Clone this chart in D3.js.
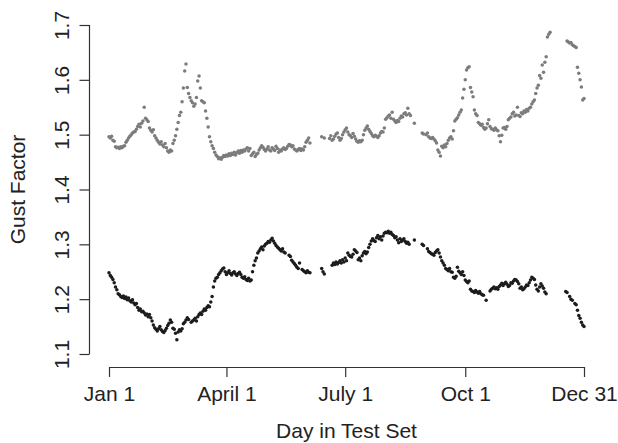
<!DOCTYPE html>
<html>
<head>
<meta charset="utf-8">
<script src="https://cdn.jsdelivr.net/npm/d3@7"></script>
<style>
  html, body { margin: 0; padding: 0; background: #fff; }
  svg { display: block; }
  text { font-family: "Liberation Sans", Arial, Helvetica, sans-serif; fill: #222; }
</style>
</head>
<body>
<svg id="chart" width="618" height="443"></svg>
<script>
// Daily gust factor over the test year; null = no observation that day.
const xTickDays = [1, 91, 182, 274, 365];
const xTickLabels = ["Jan 1", "April 1", "July 1", "Oct 1", "Dec 31"];
const yTicks = [1.1, 1.2, 1.3, 1.4, 1.5, 1.6, 1.7];
const yTickLabels = ["1.1", "1.2", "1.3", "1.4", "1.5", "1.6", "1.7"];

// Upper (grey) series, day 1..365
const upperSeries = [
  1.496,1.494,1.497,1.490,1.488,1.478,1.476,1.477,1.475,1.478,
  1.476,1.479,1.480,1.486,1.490,1.494,1.497,1.500,1.503,1.505,
  1.506,1.510,1.515,1.519,1.514,1.521,1.525,1.550,1.530,1.527,
  1.524,1.512,1.508,1.505,1.509,1.498,1.494,1.490,1.486,1.483,
  1.487,1.481,1.478,1.484,1.476,1.470,1.468,1.472,1.470,1.484,
  1.490,1.498,1.510,1.522,1.535,1.541,1.560,1.585,1.616,1.629,
  1.586,1.575,1.568,1.562,1.558,1.552,1.556,1.568,1.598,1.607,
  1.585,1.562,1.560,1.558,1.543,1.530,1.514,1.496,1.487,1.480,
  1.475,1.468,1.463,1.460,1.456,1.458,1.455,1.459,1.462,1.460,
  1.463,1.461,1.465,1.462,1.466,1.464,1.468,1.463,1.467,1.470,
  1.466,1.471,1.468,1.472,1.470,1.474,1.476,1.470,1.475,1.462,
  1.465,1.468,1.460,1.464,1.466,1.472,1.476,1.480,1.477,1.473,
  1.470,1.474,1.478,1.472,1.470,1.476,1.474,1.471,1.479,1.475,
  1.468,1.472,1.470,1.474,1.476,1.473,1.475,1.479,1.482,1.481,
  1.478,1.480,1.474,1.472,1.470,1.473,1.475,1.471,1.474,1.472,
  1.478,1.486,1.490,1.494,1.485,null,null,null,null,null,
  null,null,null,1.496,null,1.494,null,null,null,1.493,
  1.498,1.490,1.492,1.497,1.501,1.503,1.495,1.490,1.493,1.500,
  1.505,1.509,1.512,1.505,1.500,1.498,1.495,1.502,1.497,1.492,
  1.488,1.486,1.489,1.487,1.490,1.500,1.508,1.512,1.516,1.510,
  1.506,1.502,1.498,1.496,1.499,1.497,1.495,1.498,1.503,1.506,
  1.505,1.512,1.528,1.531,1.534,1.536,1.530,1.541,1.528,1.525,
  1.522,1.526,1.524,1.530,1.534,1.532,1.538,1.540,1.536,1.548,
  1.538,1.535,null,null,1.521,null,null,null,null,null,
  1.503,1.501,null,1.500,1.503,1.496,1.494,1.493,1.495,1.492,
  1.489,1.485,1.472,1.468,1.461,1.479,1.476,1.481,1.478,1.484,
  1.490,1.494,1.496,1.492,1.507,1.525,1.528,1.531,1.536,1.541,
  1.545,1.567,1.583,1.600,1.618,1.622,1.624,1.586,1.578,1.569,
  1.545,1.538,1.535,1.522,1.520,1.517,1.519,1.513,1.510,1.512,
  1.520,1.527,1.515,1.511,1.510,1.508,1.512,1.509,1.507,1.498,
  1.487,1.499,1.512,1.513,1.510,1.515,1.527,1.530,1.532,1.538,
  1.541,1.534,1.536,1.550,1.535,1.533,1.540,1.538,1.543,1.541,
  1.546,1.543,1.548,1.550,1.556,1.560,1.563,1.575,1.585,1.590,
  1.608,1.603,1.627,1.614,1.632,1.642,1.678,1.683,1.687,null,
  null,null,null,null,null,null,null,null,null,null,
  null,1.671,1.669,1.667,1.668,1.664,1.662,1.661,1.659,1.623,
  1.612,1.600,1.587,1.563,1.566
];

// Lower (black) series, day 1..365
const lowerSeries = [
  1.248,1.243,1.240,1.236,1.230,1.222,1.217,1.210,1.208,1.205,
  1.203,1.206,1.201,1.204,1.199,1.202,1.197,1.195,1.199,1.193,
  1.190,1.192,1.185,1.180,1.182,1.177,1.178,1.175,1.171,1.173,
  1.168,1.172,1.166,1.160,1.153,1.148,1.145,1.142,1.146,1.150,
  1.144,1.141,1.139,1.143,1.147,1.152,1.156,1.162,1.158,1.147,
  1.145,1.138,1.126,1.140,1.144,1.142,1.146,1.155,1.158,1.162,
  1.166,1.163,null,1.158,1.160,1.162,1.165,1.160,1.168,1.172,
  1.175,1.172,1.178,1.182,1.180,1.185,1.188,1.186,1.195,1.205,
  1.222,1.233,1.238,1.240,1.245,1.248,1.252,1.255,1.257,1.250,
  1.245,1.248,1.252,1.247,1.244,1.248,1.250,1.246,1.243,1.247,
  1.249,1.245,1.240,1.238,1.241,1.236,1.234,1.238,1.233,1.235,
  1.250,1.262,1.270,1.275,1.284,1.288,1.292,1.295,1.290,1.297,
  1.300,1.302,1.305,1.304,1.308,1.311,1.306,1.302,1.298,1.295,
  1.293,1.290,1.288,1.292,1.286,1.284,null,null,1.280,1.278,
  1.271,1.268,1.265,1.262,1.258,1.256,1.266,null,1.254,1.252,
  1.250,1.248,1.252,1.249,1.248,null,null,null,null,null,
  null,null,null,1.256,1.250,1.246,null,null,null,null,
  null,1.262,1.266,1.263,1.268,1.264,1.267,1.270,1.266,1.272,
  1.268,1.275,1.270,1.284,1.280,1.278,1.277,1.282,1.290,1.288,
  1.285,1.272,1.275,1.270,1.279,1.284,1.287,1.283,1.286,1.294,
  1.300,1.306,1.310,1.307,1.305,1.312,1.316,1.310,1.314,1.308,
  1.315,1.320,1.322,1.321,1.324,1.320,1.322,1.318,1.316,1.312,
  1.314,1.308,1.303,1.310,1.305,1.308,1.310,1.305,1.302,1.304,
  1.300,null,null,null,1.308,null,null,null,null,null,
  1.300,1.298,null,null,1.292,1.287,1.285,1.283,1.282,1.280,
  1.285,1.288,1.290,1.284,1.277,1.270,1.266,1.262,1.256,1.254,
  1.252,1.256,1.250,1.249,1.240,1.238,1.242,1.258,1.251,1.248,
  1.245,1.250,1.243,1.235,1.232,1.230,1.233,1.218,1.215,1.214,
  1.212,1.216,1.213,1.211,1.214,1.210,1.208,1.207,null,1.198,
  null,null,1.215,1.218,1.220,1.222,1.219,1.221,1.218,1.223,
  1.226,1.229,1.225,1.228,1.231,1.227,1.223,1.225,1.230,1.229,
  1.233,1.236,1.235,1.232,1.228,1.220,1.222,1.217,1.219,1.222,
  1.226,1.225,1.230,1.235,1.240,1.238,1.236,1.226,1.218,1.215,
  1.222,1.228,1.224,1.220,1.213,1.210,null,null,null,null,
  null,null,null,null,null,null,null,null,null,null,
  1.214,1.212,null,1.205,1.200,1.198,null,1.192,1.190,1.180,
  1.170,1.165,1.158,1.153,1.150
];

const svg = d3.select("#chart");
const fontSize = 21;

const x = d3.scaleLinear().domain([1, 365]).range([109, 584]);
const y = d3.scaleLinear().domain([1.1, 1.7]).range([354, 25]);

// x axis (line spans first to last tick only)
const xAxisY = 367;
const xAxis = d3.axisBottom(x)
  .tickValues(xTickDays)
  .tickFormat((d, i) => xTickLabels[i])
  .tickSize(10)
  .tickSizeOuter(0)
  .tickPadding(9);
const gx = svg.append("g").attr("transform", `translate(0,${xAxisY})`).call(xAxis);
gx.select(".domain").attr("d", `M${x(1)},0.5H${x(365)}`).attr("stroke", "#333").attr("stroke-width", 1.2);
gx.selectAll(".tick line").attr("stroke", "#333").attr("stroke-width", 1.2);
gx.selectAll(".tick text").attr("font-size", fontSize).attr("fill", "#222")
  .attr("font-family", '"Liberation Sans", Arial, sans-serif');

// y axis with rotated labels
const yAxisX = 89.5;
const yAxis = d3.axisLeft(y)
  .tickValues(yTicks)
  .tickFormat((d, i) => yTickLabels[i])
  .tickSize(10)
  .tickSizeOuter(0);
const gy = svg.append("g").attr("transform", `translate(${yAxisX},0)`).call(yAxis);
gy.select(".domain").attr("d", `M0,${y(1.1)}V${y(1.7)}`).attr("stroke", "#333").attr("stroke-width", 1.2);
gy.selectAll(".tick line").attr("stroke", "#333").attr("stroke-width", 1.2);
gy.selectAll(".tick text")
  .attr("font-size", fontSize)
  .attr("fill", "#222")
  .attr("font-family", '"Liberation Sans", Arial, sans-serif')
  .attr("x", null).attr("dy", null)
  .attr("text-anchor", "middle")
  .attr("transform", "translate(-21,0) rotate(-90)");

// axis titles
svg.append("text")
  .attr("x", (x(1) + x(365)) / 2)
  .attr("y", 438)
  .attr("text-anchor", "middle")
  .attr("font-size", fontSize)
  .text("Day in Test Set");

svg.append("text")
  .attr("transform", `translate(25,${(y(1.1) + y(1.7)) / 2}) rotate(-90)`)
  .attr("text-anchor", "middle")
  .attr("font-size", fontSize)
  .text("Gust Factor");

// points
function drawSeries(values, color) {
  const pts = values.map((v, i) => ({ day: i + 1, v })).filter(d => d.v !== null);
  svg.append("g").selectAll("circle").data(pts).join("circle")
    .attr("cx", d => x(d.day))
    .attr("cy", d => y(d.v))
    .attr("r", 1.75)
    .attr("fill", color);
}
drawSeries(upperSeries, "#7c7c7c");
drawSeries(lowerSeries, "#1c1c1c");
</script>
</body>
</html>
